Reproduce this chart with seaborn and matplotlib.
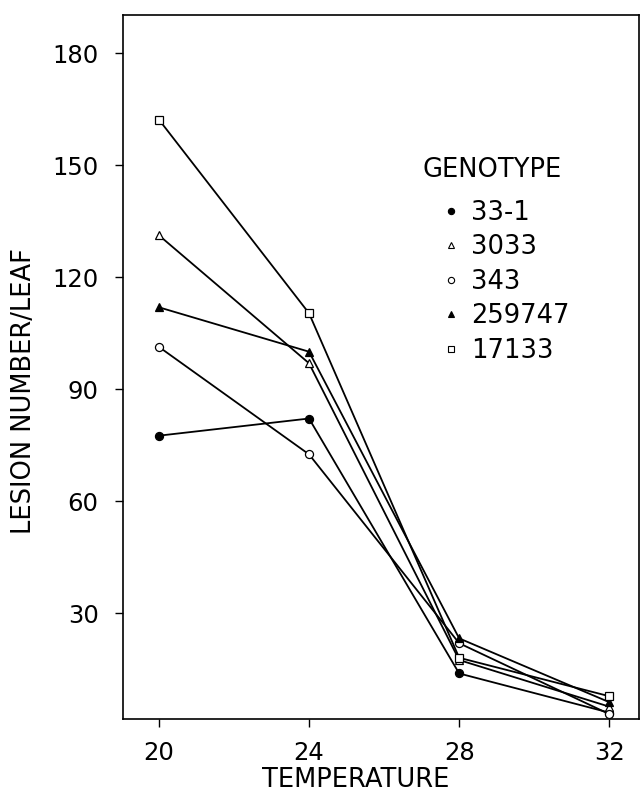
import matplotlib
matplotlib.use("Agg")
import matplotlib.pyplot as plt
from matplotlib.lines import Line2D
import seaborn as sns
import pandas as pd

# ---- data ----
temperatures = [20, 24, 28, 32]
genotypes = ["33-1", "3033", "343", "259747", "17133"]
lesions_33_1 = [77.6, 82.2, 13.9, 3.4]
lesions_3033 = [131.3, 97.0, 17.5, 5.0]
lesions_343 = [101.4, 72.6, 22.0, 3.0]
lesions_259747 = [112.0, 100.1, 23.3, 6.2]
lesions_17133 = [162.3, 110.4, 18.1, 7.8]
y_ticks = [30, 60, 90, 120, 150, 180]
x_ticks = [20, 24, 28, 32]

series = {
    "33-1": lesions_33_1,
    "3033": lesions_3033,
    "343": lesions_343,
    "259747": lesions_259747,
    "17133": lesions_17133,
}
rows = []
for g in genotypes:
    for t, v in zip(temperatures, series[g]):
        rows.append({"genotype": g, "temperature": t, "lesions": v})
df = pd.DataFrame(rows)

# marker styles: (marker, facecolor)
styles = {
    "33-1": ("o", "black"),
    "3033": ("^", "white"),
    "343": ("o", "white"),
    "259747": ("^", "black"),
    "17133": ("s", "white"),
}

sns.set_theme(style="ticks")
plt.rcParams["font.family"] = ["DejaVu Sans"]
plt.rcParams["text.color"] = "black"
FS_TICK = 17.5
FS_TEXT = 18.5

fig = plt.figure(figsize=(6.41, 7.95), dpi=100)
ax = fig.add_axes([123 / 641, 1 - 719 / 795, (639 - 123) / 641, (719 - 15) / 795])

for g in genotypes:
    m, fc = styles[g]
    sns.lineplot(
        data=df[df["genotype"] == g], x="temperature", y="lesions",
        color="black", linewidth=1.3, marker=m, markersize=5.8,
        markerfacecolor=fc, markeredgecolor="black", markeredgewidth=0.9,
        legend=False, ax=ax, zorder=3,
    )

ax.set_xlim(19.045, 32.79)
ax.set_ylim(1.7, 190.3)
ax.set_xticks(x_ticks)
ax.set_yticks(y_ticks)
ax.tick_params(axis="both", direction="out", length=5.5, width=1.0,
               labelsize=FS_TICK, colors="black")
ax.tick_params(axis="y", pad=12)
ax.tick_params(axis="x", pad=10)
for s in ax.spines.values():
    s.set_linewidth(1.2)
    s.set_color("black")

ax.set_xlabel("TEMPERATURE", fontsize=FS_TEXT, color="black")
ax.set_ylabel("LESION NUMBER/LEAF", fontsize=FS_TEXT, color="black")
ax.xaxis.set_label_coords((356 - 123) / 516, (719 - 767) / 704)
ax.yaxis.set_label_coords((37 - 123) / 516, (719 - 391) / 704)

fig.text(423 / 641, 1 - 170 / 795, "GENOTYPE", fontsize=FS_TEXT, color="black",
         ha="left", va="center")

handles = []
for g in genotypes:
    m, fc = styles[g]
    handles.append(Line2D([], [], linestyle="none", marker=m, markersize=4.5,
                          markerfacecolor=fc, markeredgecolor="black",
                          markeredgewidth=0.8))
leg = ax.legend(handles, genotypes, frameon=False,
                loc="upper left", bbox_to_anchor=(431 / 641, 1 - 200 / 795),
                bbox_transform=fig.transFigure, fontsize=FS_TEXT,
                labelcolor="black",
                borderpad=0, borderaxespad=0, handlelength=1.55,
                handletextpad=0.0, labelspacing=0.33, numpoints=1)

fig.savefig("out.png", dpi=100, facecolor="white")
